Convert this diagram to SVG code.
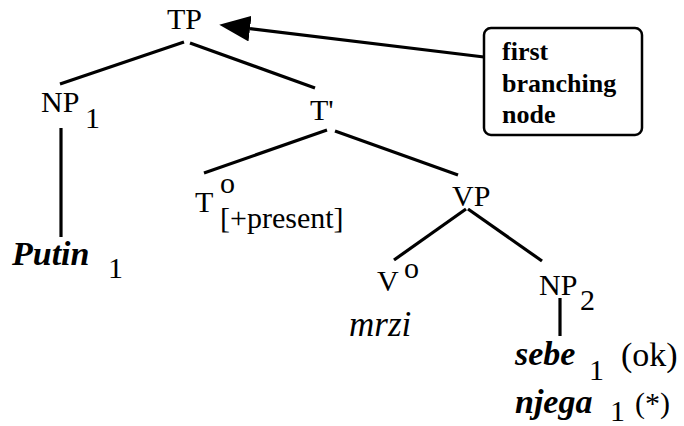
<svg xmlns="http://www.w3.org/2000/svg" width="684" height="426" viewBox="0 0 684 426">
<style>
text{font-family:'Liberation Serif','Times New Roman',Times,'Nimbus Roman','DejaVu Serif',serif;fill:#000}
.lb{font-size:30px}
.ok{font-size:34px}
.bi{font-size:34px;font-weight:bold;font-style:italic}
.it{font-size:35px;font-style:italic}
.note{font-size:26px;font-weight:bold}
.edge{stroke:#000;stroke-width:3.2;fill:none;stroke-linecap:butt}
</style>
<defs>
<marker id="ah" markerUnits="userSpaceOnUse" markerWidth="31" markerHeight="26" viewBox="0 0 30 25" refX="0" refY="12.5" orient="auto">
<path d="M0,0 L30,12.5 L0,25 z" fill="#000"/>
</marker>
</defs>
<rect width="684" height="426" fill="#fff"/>
<g id="connectors">
<line class="edge" x1="184" y1="42" x2="60" y2="84"/>
<line class="edge" x1="190" y1="43" x2="315" y2="88"/>
<line class="edge" x1="61" y1="128" x2="61" y2="237"/>
<line class="edge" x1="327" y1="130" x2="204" y2="173"/>
<line class="edge" x1="335" y1="131" x2="458" y2="175"/>
<line class="edge" x1="466" y1="209" x2="394" y2="260"/>
<line class="edge" x1="468" y1="209" x2="542" y2="261"/>
<line class="edge" x1="560" y1="298" x2="560" y2="336"/>
<line class="edge" x1="484" y1="57" x2="250" y2="28.6" marker-end="url(#ah)"/>
</g>
<g id="TP"><text class="lb" x="167" y="29">TP</text></g>
<g id="NP1"><text class="lb" x="41" y="112">NP</text><text class="lb" x="85" y="128">1</text></g>
<g id="Tbar"><text class="lb" x="310" y="120">T'</text></g>
<g id="T0"><text class="lb" x="195" y="212">T</text><text class="lb" x="220" y="193">o</text><text class="lb" x="220" y="228">[+present]</text></g>
<g id="VP"><text class="lb" x="452" y="206">VP</text></g>
<g id="V0"><text class="lb" x="377" y="291">V</text><text class="lb" x="404" y="278">o</text><text class="it" x="349" y="336">mrzi</text></g>
<g id="NP2"><text class="lb" x="539" y="295">NP</text><text class="lb" x="580" y="310">2</text></g>
<g id="Putin"><text class="bi" x="12" y="265">Putin</text><text class="lb" x="108" y="278">1</text></g>
<g id="sebe"><text class="bi" x="515" y="365">sebe</text><text class="lb" x="589" y="380">1</text><text class="ok" x="621" y="366">(ok)</text></g>
<g id="njega"><text class="bi" x="515" y="413">njega</text><text class="lb" x="610" y="421">1</text><text class="lb" x="635" y="413">(*)</text></g>
<g id="note">
<rect x="484" y="28" width="158" height="107" rx="7" ry="7" fill="#fff" stroke="#000" stroke-width="2.5"/>
<text class="note" x="502" y="60">first</text>
<text class="note" x="502" y="92">branching</text>
<text class="note" x="502" y="123">node</text>
</g>
</svg>
